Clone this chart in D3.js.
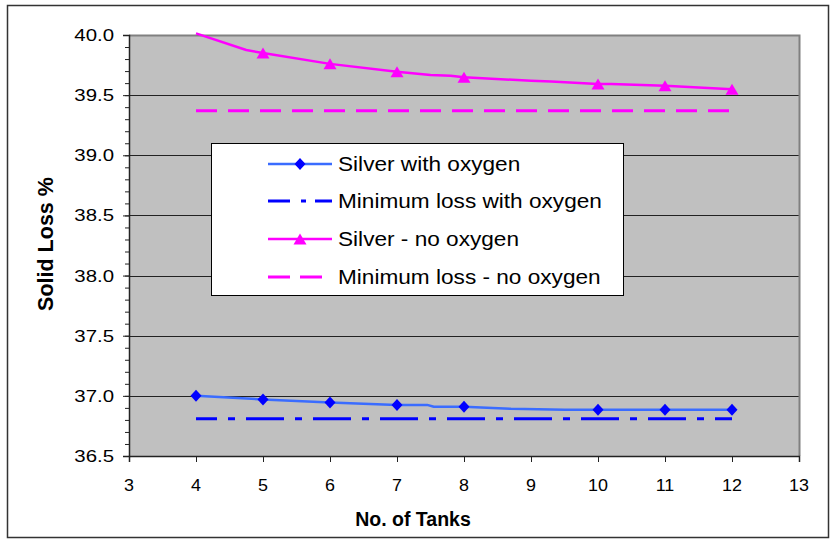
<!DOCTYPE html>
<html>
<head>
<meta charset="utf-8">
<script src="https://cdn.jsdelivr.net/npm/d3@7"></script>
<style>
  html, body { margin: 0; padding: 0; background: #fff; }
  svg { display: block; font-family: "Liberation Sans", Arial, sans-serif; }
</style>
</head>
<body>
<svg id="chart" width="830" height="539"></svg>
<script>
// Number of tanks along the x axis
const xTicks = [3, 4, 5, 6, 7, 8, 9, 10, 11, 12, 13];
const yTicks = [36.5, 37.0, 37.5, 38.0, 38.5, 39.0, 39.5, 40.0];

// Tanks at which the silver series carry a marker
const markerTanks = [4, 5, 6, 7, 8, 10, 11, 12];

// Silver with oxygen: traced line (tanks, solid loss %)
const oxyTanks = [4, 5, 6, 7, 7.45, 7.55, 8, 8.7, 9.5, 10, 11, 12];
const oxyLoss  = [37.00, 36.97, 36.945, 36.925, 36.925, 36.91, 36.91, 36.892, 36.885, 36.885, 36.885, 36.885];

// Silver - no oxygen
const noOxyTanks = [4, 4.75, 5, 6, 7, 7.5, 7.8, 8, 9, 9.3, 10, 10.2, 11, 12];
const noOxyLoss  = [40.014, 39.875, 39.85, 39.76, 39.695, 39.667, 39.662, 39.648, 39.62, 39.613, 39.593, 39.593, 39.578, 39.55];

// Minimum losses (constant over the tank range)
const minRange = [4, 12];
const minOxyLoss = 36.81;
const minNoOxyLoss = 39.37;

const legendLabels = [
  "Silver with oxygen",
  "Minimum loss with oxygen",
  "Silver - no oxygen",
  "Minimum loss - no oxygen"
];

const BLUE_LINE = "#3a6cff", BLUE = "#0000ff", MAGENTA = "#ff00ff";

const svg = d3.select("#chart");
const plot = { left: 129, top: 35, right: 799, bottom: 456 };

const x = d3.scaleLinear().domain([3, 13]).range([plot.left, plot.right]);
const y = d3.scaleLinear().domain([36.5, 40.0]).range([plot.bottom, plot.top]);

// Outer frame
svg.append("rect")
  .attr("x", 7.5).attr("y", 5.5).attr("width", 821).attr("height", 532)
  .attr("fill", "#fff").attr("stroke", "#333").attr("stroke-width", 1.5);

// Plot area
svg.append("rect")
  .attr("x", plot.left).attr("y", plot.top)
  .attr("width", plot.right - plot.left).attr("height", plot.bottom - plot.top)
  .attr("fill", "#c0c0c0");

// Horizontal gridlines
svg.append("g").selectAll("line")
  .data(yTicks.filter(d => d > 36.5 && d < 40))
  .join("line")
  .attr("x1", plot.left).attr("x2", plot.right)
  .attr("y1", d => Math.round(y(d)) + 0.5).attr("y2", d => Math.round(y(d)) + 0.5)
  .attr("stroke", "#222").attr("stroke-width", 1);

// Top and right borders
svg.append("path")
  .attr("d", `M${plot.left},${plot.top + 0.5}H${plot.right + 0.5}V${plot.bottom}`)
  .attr("fill", "none").attr("stroke", "#808080").attr("stroke-width", 2);

// Y axis: major ticks every 0.5, minor every 0.1
const yAxis = d3.axisLeft(y).tickValues(yTicks).tickSize(6).tickFormat("");
const yAxisMinor = d3.axisLeft(y).tickValues(d3.range(36.5, 40.0001, 0.1)).tickSize(4).tickFormat("");
svg.append("g").attr("transform", `translate(${plot.left},0)`).call(yAxisMinor)
  .call(g => g.select(".domain").remove())
  .selectAll("line").attr("stroke", "#222");
svg.append("g").attr("transform", `translate(${plot.left},0)`).call(yAxis)
  .call(g => g.select(".domain").attr("stroke", "#222").attr("stroke-width", 1.5))
  .selectAll("line").attr("stroke", "#222");

svg.append("g").selectAll("text")
  .data(yTicks)
  .join("text")
  .attr("transform", d => `translate(114,${y(d) + 6}) scale(1.2,1)`)
  .attr("text-anchor", "end")
  .attr("font-size", 17)
  .attr("fill", "#000")
  .text(d => d.toFixed(1));

// X axis
const xAxis = d3.axisBottom(x).tickValues(xTicks).tickSize(6).tickFormat("");
svg.append("g").attr("transform", `translate(0,${plot.bottom})`).call(xAxis)
  .call(g => g.select(".domain").attr("stroke", "#222").attr("stroke-width", 1.5))
  .selectAll("line").attr("stroke", "#222");

svg.append("g").selectAll("text")
  .data(xTicks)
  .join("text")
  .attr("transform", d => `translate(${x(d)},491) scale(1.12,1)`)
  .attr("text-anchor", "middle")
  .attr("font-size", 16)
  .attr("fill", "#000")
  .text(d => d);

// Axis titles
svg.append("text")
  .attr("x", 413).attr("y", 526)
  .attr("text-anchor", "middle")
  .attr("font-size", 19.5).attr("font-weight", "bold")
  .text("No. of Tanks");

svg.append("text")
  .attr("transform", "translate(53,244) rotate(-90)")
  .attr("text-anchor", "middle")
  .attr("font-size", 21.5).attr("font-weight", "bold")
  .text("Solid Loss %");

// Minimum loss lines
const oxyDash = "38,11,7,11";
svg.append("line")
  .attr("x1", x(minRange[0])).attr("x2", x(minRange[1]))
  .attr("y1", y(minOxyLoss)).attr("y2", y(minOxyLoss))
  .attr("stroke", BLUE).attr("stroke-width", 3)
  .attr("stroke-dasharray", oxyDash).attr("stroke-dashoffset", 17);

svg.append("line")
  .attr("x1", x(minRange[0])).attr("x2", x(minRange[1]))
  .attr("y1", y(minNoOxyLoss)).attr("y2", y(minNoOxyLoss))
  .attr("stroke", MAGENTA).attr("stroke-width", 3)
  .attr("stroke-dasharray", "21,11");

// Silver series lines
const line = d3.line().x(d => x(d[0])).y(d => y(d[1]));
const oxyPts = oxyTanks.map((t, i) => [t, oxyLoss[i]]);
const noOxyPts = noOxyTanks.map((t, i) => [t, noOxyLoss[i]]);

svg.append("path").datum(oxyPts).attr("d", line)
  .attr("fill", "none").attr("stroke", BLUE_LINE).attr("stroke-width", 2.5)
  .attr("stroke-linejoin", "round");
svg.append("path").datum(noOxyPts).attr("d", line)
  .attr("fill", "none").attr("stroke", MAGENTA).attr("stroke-width", 2.5)
  .attr("stroke-linejoin", "round");

// Markers (points outside the value axis are not marked)
const diamond = "M0,-6L5.5,0L0,6L-5.5,0Z";
const triangle = "M0,-5.5L6.5,5.5L-6.5,5.5Z";
const inRange = p => markerTanks.includes(p[0]) && p[1] <= y.domain()[1] && p[1] >= y.domain()[0];

svg.append("g").selectAll("path")
  .data(oxyPts.filter(inRange))
  .join("path")
  .attr("d", diamond)
  .attr("transform", d => `translate(${x(d[0])},${y(d[1])})`)
  .attr("fill", BLUE);

svg.append("g").selectAll("path")
  .data(noOxyPts.filter(inRange))
  .join("path")
  .attr("d", triangle)
  .attr("transform", d => `translate(${x(d[0])},${y(d[1])})`)
  .attr("fill", MAGENTA);

// Legend
const lg = svg.append("g");
lg.append("rect")
  .attr("x", 211.5).attr("y", 143.5).attr("width", 412).attr("height", 152)
  .attr("fill", "#fff").attr("stroke", "#000").attr("stroke-width", 1);

const rowY = [164, 201, 239, 277];
const sx0 = 268, sx1 = 332;

// Row 1: silver with oxygen
lg.append("line").attr("x1", sx0).attr("x2", sx1).attr("y1", rowY[0]).attr("y2", rowY[0])
  .attr("stroke", BLUE_LINE).attr("stroke-width", 2.5);
lg.append("path").attr("d", diamond).attr("transform", `translate(300,${rowY[0]})`).attr("fill", BLUE);

// Row 2: minimum loss with oxygen
lg.append("line").attr("x1", sx0).attr("x2", sx1).attr("y1", rowY[1]).attr("y2", rowY[1])
  .attr("stroke", BLUE).attr("stroke-width", 3).attr("stroke-dasharray", "22,11,5,9,18");

// Row 3: silver - no oxygen
lg.append("line").attr("x1", sx0).attr("x2", sx1).attr("y1", rowY[2]).attr("y2", rowY[2])
  .attr("stroke", MAGENTA).attr("stroke-width", 2.5);
lg.append("path").attr("d", triangle).attr("transform", `translate(300,${rowY[2]})`).attr("fill", MAGENTA);

// Row 4: minimum loss - no oxygen
lg.append("line").attr("x1", sx0).attr("x2", 322).attr("y1", rowY[3]).attr("y2", rowY[3])
  .attr("stroke", MAGENTA).attr("stroke-width", 3).attr("stroke-dasharray", "22,10");

lg.selectAll("text")
  .data(legendLabels)
  .join("text")
  .attr("transform", (d, i) => `translate(338,${rowY[i] + 7}) scale(1.16,1)`)
  .attr("font-size", 19.5)
  .attr("fill", "#000")
  .text(d => d);
</script>
</body>
</html>
